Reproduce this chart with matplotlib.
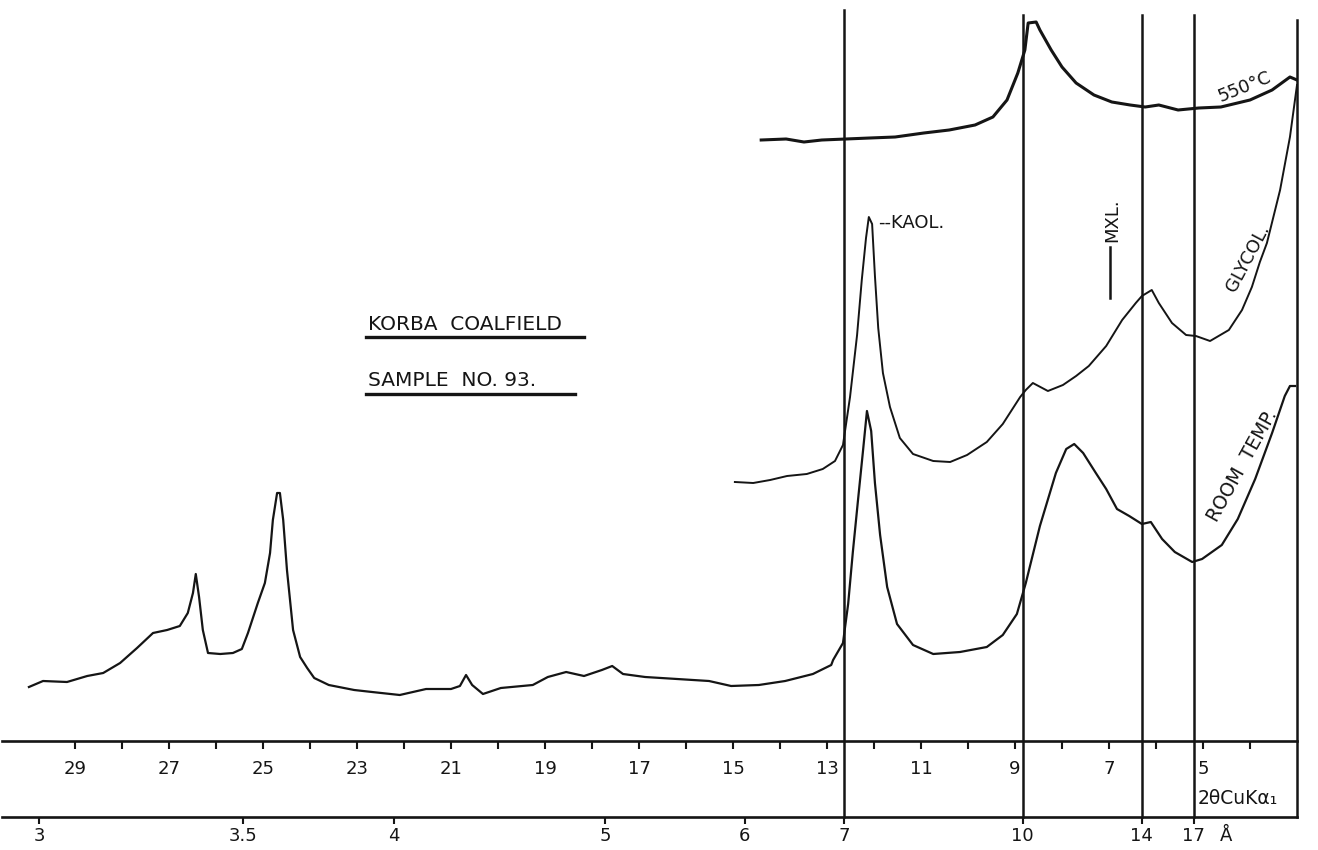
import numpy as np
import matplotlib
matplotlib.use("Agg")
import matplotlib.pyplot as plt

# ---------------- data (2-theta in degrees, intensity in chart units) ----------------
LAMBDA = 1.5406  # CuKa1 wavelength (Angstrom)

room_2theta = [29.98, 29.68, 29.17, 28.74, 28.40, 28.04, 27.68, 27.34, 27.04, 26.77,
               26.60, 26.49, 26.43, 26.36, 26.28, 26.17, 25.91, 25.64, 25.45, 25.32,
               25.11, 24.96, 24.85, 24.79, 24.70, 24.64, 24.57, 24.49, 24.36, 24.21,
               24.06, 23.91, 23.60, 23.06, 22.68, 22.09, 21.53, 21.00, 20.81, 20.68,
               20.55, 20.32, 19.94, 19.26, 18.94, 18.55, 18.17, 17.79, 17.57, 17.34,
               16.87, 16.19, 15.51, 15.04, 14.45, 13.89, 13.30, 12.91, 12.87, 12.66,
               12.55, 12.45, 12.34, 12.23, 12.15, 12.06, 11.98, 11.87, 11.72, 11.51,
               11.17, 10.74, 10.17, 9.60, 9.26, 8.96, 8.77, 8.47, 8.13, 7.91,
               7.74, 7.55, 7.28, 7.06, 6.83, 6.57, 6.30, 6.11, 5.87, 5.60,
               5.23, 5.02, 4.60, 4.26, 3.89, 3.53, 3.26, 3.15, 3.04]
room_int = [54, 60, 59, 65, 68, 78, 93, 108, 111, 115,
            128, 148, 167, 144, 111, 88, 87, 88, 92, 108,
            138, 158, 188, 221, 248, 248, 221, 171, 111, 84,
            73, 63, 56, 51, 49, 46, 52, 52, 55, 66,
            56, 47, 53, 56, 64, 69, 65, 71, 75, 67,
            64, 62, 60, 55, 56, 60, 67, 76, 81, 98,
            137, 189, 241, 292, 330, 310, 258, 206, 154, 117,
            96, 87, 89, 94, 106, 127, 158, 215, 268, 292,
            297, 288, 268, 252, 232, 225, 217, 219, 202, 189,
            179, 182, 196, 222, 262, 308, 345, 355, 355]

glycol_2theta = [14.96, 14.57, 14.21, 13.85, 13.43, 13.09, 12.83, 12.66, 12.51, 12.36,
                 12.26, 12.17, 12.11, 12.04, 11.98, 11.91, 11.81, 11.66, 11.45, 11.17,
                 10.74, 10.38, 10.02, 9.60, 9.26, 8.89, 8.77, 8.62, 8.30, 7.98,
                 7.70, 7.43, 7.06, 6.72, 6.43, 6.30, 6.09, 5.94, 5.66, 5.36,
                 5.15, 4.85, 4.45, 4.17, 3.96, 3.79, 3.64, 3.36, 3.15, 3.00]
glycol_int = [259, 258, 261, 265, 267, 272, 280, 296, 344, 406,
              461, 503, 524, 517, 465, 413, 368, 334, 303, 287,
              280, 279, 286, 299, 317, 344, 351, 358, 350, 356,
              365, 375, 395, 421, 438, 445, 451, 438, 418, 406,
              405, 400, 411, 431, 454, 479, 498, 551, 604, 656]

heated_2theta = [14.40, 13.87, 13.49, 13.11, 12.60, 12.09, 11.55, 10.94, 10.40, 9.85,
                 9.47, 9.17, 8.94, 8.79, 8.72, 8.55, 8.47, 8.23, 8.00, 7.70,
                 7.32, 6.94, 6.55, 6.23, 5.94, 5.53, 5.09, 4.62, 4.00, 3.53,
                 3.15, 3.00]
heated_int = [601, 602, 599, 601, 602, 603, 604, 608, 611, 616,
              624, 641, 668, 691, 718, 719, 711, 691, 674, 658,
              646, 639, 636, 634, 636, 631, 633, 634, 641, 651,
              664, 661]

ref_d = [7, 10, 14, 17]                       # reference d-spacing lines (Angstrom)
ref_top = [731, 726, 726, 726]
twotheta_labeled = [29, 27, 25, 23, 21, 19, 17, 15, 13, 11, 9, 7, 5]
twotheta_unlabeled = [28, 26, 24, 22, 20, 18, 16, 14, 12, 10, 8, 6, 4]
d_ticks = [3, 3.5, 4, 5, 6, 7, 10, 14, 17]
d_labels = ["3", "3.5", "4", "5", "6", "7", "10", "14", "17"]


def tt_to_d(tt):
    tt = np.asarray(tt, dtype=float)
    with np.errstate(divide="ignore", invalid="ignore"):
        return LAMBDA / (2.0 * np.sin(np.radians(tt) / 2.0))


def d_to_tt(d):
    d = np.asarray(d, dtype=float)
    with np.errstate(divide="ignore", invalid="ignore"):
        return 2.0 * np.degrees(np.arcsin(np.clip(LAMBDA / (2.0 * d), -1, 1)))


INK = "#151515"
W, H = 1318, 850
fig = plt.figure(figsize=(W / 100, H / 100), dpi=100)
fig.patch.set_facecolor("white")
ax = fig.add_axes([2 / W, (H - 741) / H, 1295 / W, 741 / H])
ax.set_xlim(30.553, 3.0)
ax.set_ylim(0, 741)
ax.patch.set_alpha(0)
for s in ("top", "left", "right"):
    ax.spines[s].set_visible(False)
ax.spines["bottom"].set_linewidth(1.9)
ax.spines["bottom"].set_color(INK)
ax.set_yticks([])

ax.set_xticks(twotheta_labeled, labels=[str(v) for v in twotheta_labeled])
ax.set_xticks(twotheta_unlabeled, minor=True)
ax.tick_params(axis="x", which="both", direction="out", length=6, width=1.5,
               color=INK, labelsize=13, pad=8, labelcolor=INK)

# traces
ax.plot(room_2theta, room_int, color=INK, lw=1.6, solid_joinstyle="round")
ax.plot(glycol_2theta, glycol_int, color=INK, lw=1.4, solid_joinstyle="round")
ax.plot(heated_2theta, heated_int, color=INK, lw=2.2, solid_joinstyle="round")

# d-spacing axis
BOTTOM = -76
sec = ax.secondary_xaxis(BOTTOM / 741, functions=(tt_to_d, d_to_tt))
sec.set_xticks(d_ticks, labels=d_labels)
sec.tick_params(axis="x", direction="out", length=5, width=1.5, color=INK,
                labelsize=13, pad=2, labelcolor=INK)
sec.spines["bottom"].set_linewidth(1.9)
sec.spines["bottom"].set_color(INK)

# reference lines
for d, top in zip(ref_d, ref_top):
    tt = float(d_to_tt(d))
    ax.plot([tt, tt], [top, BOTTOM], color=INK, lw=1.8, clip_on=False)
ax.plot([3.0, 3.0], [721, BOTTOM], color=INK, lw=1.8, clip_on=False)

# annotations
ax.text(22.77, 416, "KORBA  COALFIELD", fontsize=14.5, color=INK, va="center", ha="left")
ax.plot([22.81, 18.17], [404, 404], color=INK, lw=2.4)
ax.text(22.77, 360, "SAMPLE  NO. 93.", fontsize=14.5, color=INK, va="center", ha="left")
ax.plot([22.81, 18.36], [347, 347], color=INK, lw=2.4)

ax.text(11.91, 518, "--KAOL.", fontsize=13, color=INK, va="center", ha="left")
ax.text(6.94, 521, "MXL.", fontsize=13, color=INK, va="center", ha="center", rotation=90)
ax.plot([6.98, 6.98], [494, 443], color=INK, lw=1.8)

ax.text(4.11, 654, "550°C", fontsize=13, color=INK, va="center", ha="center", rotation=22)
ax.text(4.04, 483, "GLYCOL.", fontsize=13, color=INK, va="center", ha="center", rotation=62)
ax.text(4.17, 275, "ROOM  TEMP.", fontsize=13.5, color=INK, va="center", ha="center", rotation=61)

ax.text(5.11, -57, "2θCuKα₁", fontsize=13.5, color=INK, va="center", ha="left")
ax.text(4.51, -95, "Å", fontsize=13, color=INK, va="center", ha="center")

fig.savefig("out.png", dpi=100, facecolor="white")
